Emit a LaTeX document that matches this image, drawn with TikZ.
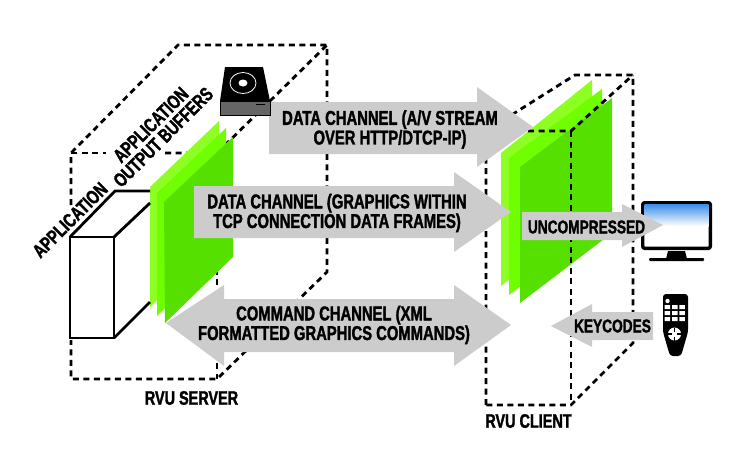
\documentclass[tikz,border=0pt]{standalone}
\usepackage{fontspec}
\newfontfamily\rvufont{Liberation Sans Bold}[FakeStretch=0.74,FakeBold=1.6]
\definecolor{bufa}{HTML}{8EFF22}
\definecolor{bufb}{HTML}{70FF00}
\definecolor{bufc}{HTML}{55E000}
\definecolor{chan}{HTML}{CCCCCC}
\definecolor{screentop}{HTML}{3F8FEA}
\tikzset{
  boxedge/.style={line width=2.8pt,dash pattern=on 6pt off 4.5pt},
  cubeedge/.style={line width=2.8pt,line join=miter},
  chanarrow/.style={fill=chan,draw=none},
  chanlabel/.style={inner sep=0pt,align=center,font=\rvufont\fontsize{20}{17.5}\selectfont},
  keylabel/.style={inner sep=0pt,font=\rvufont\fontsize{18.5}{18}\selectfont},
  boxlabel/.style={inner sep=0pt,font=\rvufont\fontsize{19.5}{18}\selectfont},
  sidelabel/.style={inner sep=0pt,align=center,rotate=45,font=\rvufont\fontsize{19.5}{17.5}\selectfont}
}
\begin{document}
\begin{tikzpicture}[x=1pt,y=-1pt]
\useasboundingbox (0,0) rectangle (750,464);
\draw[boxedge] (71,205) -- (71,153) -- (178,45) -- (327,45) -- (327,272) -- (217,379) -- (71,379) -- (71,340);
\draw[boxedge] (71,153) -- (106,153); \draw[boxedge] (165,153) -- (217,153) -- (327,45);
\draw[boxedge] (217,153) -- (217,379);
\fill[bufa] (150,187) -- (219,121) -- (219,240) -- (150,307) -- cycle;
\fill[bufb] (157,193) -- (226,128) -- (226,249) -- (157,316) -- cycle;
\fill[bufc] (164,202) -- (233,137) -- (233,257) -- (165,323) -- cycle;
\draw[cubeedge,fill=white] (70,237) rectangle (114,338);
\draw[cubeedge] (70,237) -- (115,191) -- (150,191);
\draw[cubeedge] (114,237) -- (150,203);
\draw[cubeedge] (114,338) -- (150,302);
\node[sidelabel] (app) at (70,220) {APPLICATION};
\node[sidelabel] (buffers) at (157,131) {APPLICATION\\OUTPUT BUFFERS};
\fill[bufa] (501,153) -- (592,80) -- (592,215) -- (501,286) -- cycle;
\fill[bufb] (509,158) -- (602,89) -- (602,225) -- (509,295) -- cycle;
\fill[bufc] (520,167) -- (612,98) -- (612,233) -- (520,303) -- cycle;
\draw[boxedge] (486,405) -- (486,131) -- (575,75) -- (633,75) -- (633,343) -- (571,405) -- (486,405);
\draw[boxedge] (486,131) -- (571,131) -- (633,75);
\draw[boxedge] (571,131) -- (571,405);
\fill[chanarrow] (269,102) -- (477,102) -- (477,87) -- (533,127) -- (477,167) -- (477,154) -- (269,154) -- cycle;
\fill[chanarrow] (194,186) -- (454,186) -- (454,172) -- (511,212) -- (454,252) -- (454,238) -- (194,238) -- cycle;
\fill[chanarrow] (166,323) -- (224,285) -- (224,299) -- (454,299) -- (454,285) -- (511,325) -- (454,366) -- (454,352) -- (224,352) -- (224,366) -- cycle;
\draw[line width=3.4pt,rounded corners=2pt,fill=white] (642.7,202.7) rectangle (710.3,248.3);
\shade[top color=screentop,bottom color=white] (644.5,204.5) rectangle (708.5,226);
\fill (666,259) -- (668,251) -- (685,251) -- (687,259) -- cycle;
\fill[rounded corners=1pt] (649,258) rectangle (704,261);
\fill[chanarrow] (522,212) -- (622,212) -- (622,204) -- (663,225) -- (622,247) -- (622,240) -- (522,240) -- cycle;
\fill[chanarrow] (551,326) -- (592,304) -- (592,312) -- (653,312) -- (653,340) -- (592,340) -- (592,347) -- cycle;
\fill[rounded corners=3pt] (663,294) -- (688,294) -- (688,332) -- (681,356) -- (670,356) -- (663,332) -- cycle;
\fill[white] (667.5,301) circle (2.2);
\fill[white] (664.7,305) rectangle (670.2,309) (672.2,305) rectangle (677.7,309) (679.4,305) rectangle (684.9,309);
\fill[white] (664.7,311) rectangle (670.2,315) (672.2,311) rectangle (677.7,315) (679.4,311) rectangle (684.9,315);
\fill[white] (664.7,317) rectangle (670.2,321) (672.2,317) rectangle (677.7,321) (679.4,317) rectangle (684.9,321);
\fill[white] (674.5,334) circle (6.5);
\draw[line width=1.2pt] (674.5,327.5) -- (674.5,331.5) (674.5,336.5) -- (674.5,340.5) (668,334) -- (672,334) (677,334) -- (681,334);
\fill (225,67) -- (263,67) -- (270,101) -- (220,101) -- cycle;
\draw[white,line width=0.8pt] (243,83) ellipse (13 and 10.5);
\fill[white] (243,83) ellipse (4.5 and 3.5);
\draw[line width=0.8pt,fill=black!60] (220,101) rectangle (270,115);
\fill (256,103.5) rectangle (265,105);
\node[chanlabel] (avstream) at (390,129.5) {DATA CHANNEL (A/V STREAM\\OVER HTTP/DTCP-IP)};
\node[chanlabel] (graphics) at (337,213) {DATA CHANNEL (GRAPHICS WITHIN\\TCP CONNECTION DATA FRAMES)};
\node[chanlabel] (command) at (334,325) {COMMAND CHANNEL (XML\\FORMATTED GRAPHICS COMMANDS)};
\node[keylabel] (uncomp) at (586.5,227) {UNCOMPRESSED};
\node[keylabel] (keycodes) at (612.5,326) {KEYCODES};
\node[boxlabel] (server) at (191.5,398) {RVU SERVER};
\node[boxlabel] (client) at (528.5,421) {RVU CLIENT};
\end{tikzpicture}
\end{document}
